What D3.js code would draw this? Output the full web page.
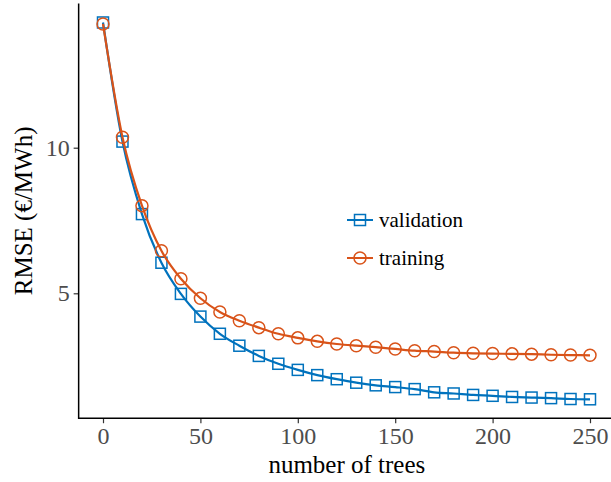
<!DOCTYPE html>
<html><head><meta charset="utf-8">
<script src="https://cdn.jsdelivr.net/npm/d3@7"></script>
<style>body{margin:0;background:#fff}svg{display:block}</style>
</head><body>
<script>
const trees = [0,10,20,30,40,50,60,70,80,90,100,110,120,130,140,150,160,170,180,190,200,210,220,230,240,250];
const validation = [14.30,10.21,7.72,6.05,4.98,4.20,3.61,3.20,2.85,2.58,2.37,2.19,2.05,1.93,1.84,1.78,1.71,1.60,1.56,1.51,1.48,1.44,1.42,1.40,1.37,1.36];
const training = [14.25,10.36,8.01,6.46,5.50,4.83,4.36,4.06,3.82,3.61,3.47,3.35,3.26,3.20,3.15,3.09,3.03,3.00,2.96,2.94,2.93,2.92,2.91,2.89,2.88,2.87];
const xTicks = [0,50,100,150,200,250];
const yTicks = [5,10];
const seriesNames = ["validation","training"];
const colors = ["#0072BD","#D95319"];

(function(){
const W=611,H=482;
const svg=d3.select("body").append("svg").attr("width",W).attr("height",H);
const x=d3.scaleLinear().domain([0,250]).range([103,590]);
const y=d3.scaleLinear().domain([5,10]).range([293.3,147.7]);
const pLeft=x(-12.5), pBottom=y(0.71), pTop=y(14.95);
const font="Liberation Serif, Times New Roman, serif";

const xAxis=svg.append("g").attr("transform",`translate(0,${pBottom})`)
  .call(d3.axisBottom(x).tickValues(xTicks).tickSize(5).tickPadding(4).tickFormat(d3.format("d")));
xAxis.select(".domain").remove();
const yAxis=svg.append("g").attr("transform",`translate(${pLeft},0)`)
  .call(d3.axisLeft(y).tickValues(yTicks).tickSize(5).tickPadding(4).tickFormat(d3.format("d")));
yAxis.select(".domain").remove();
[xAxis,yAxis].forEach(g=>{
  g.selectAll("line").attr("stroke","#333").attr("stroke-width",1.2);
  g.selectAll("text").attr("fill","#4d4d4d").style("font-family",font).style("font-size","24px");
});
svg.append("line").attr("x1",pLeft).attr("x2",pLeft).attr("y1",pTop).attr("y2",pBottom+0.75).attr("stroke","#000").attr("stroke-width",1.5);
svg.append("line").attr("x1",pLeft).attr("x2",W).attr("y1",pBottom).attr("y2",pBottom).attr("stroke","#000").attr("stroke-width",1.5);

svg.append("text").attr("x",(pLeft+W)/2+2).attr("y",473).attr("text-anchor","middle")
  .style("font-family",font).style("font-size","25px").attr("fill","#000").text("number of trees");
svg.append("text").attr("transform",`translate(32,${(pTop+pBottom)/2}) rotate(-90)`).attr("text-anchor","middle")
  .style("font-family",font).style("font-size","25px").attr("fill","#000").text("RMSE (€/MWh)");

const data=[validation,training];
const line=d3.line().x((d,i)=>x(trees[i])).y(d=>y(d)).curve(d3.curveMonotoneX);
data.forEach((vals,k)=>{
  const g=svg.append("g");
  g.append("path").attr("d",line(vals)).attr("fill","none").attr("stroke",colors[k]).attr("stroke-width",2.2);
  if(k===0){
    g.selectAll("rect").data(vals).join("rect")
      .attr("x",(d,i)=>x(trees[i])-5.5).attr("y",d=>y(d)-5.5).attr("width",11).attr("height",11)
      .attr("fill","none").attr("stroke",colors[k]).attr("stroke-width",1.5);
  } else {
    g.selectAll("circle").data(vals).join("circle")
      .attr("cx",(d,i)=>x(trees[i])).attr("cy",d=>y(d)).attr("r",6)
      .attr("fill","none").attr("stroke",colors[k]).attr("stroke-width",1.5);
  }
});

const lg=svg.append("g");
seriesNames.forEach((n,k)=>{
  const ly=220+k*38, lx=360;
  lg.append("line").attr("x1",lx-13).attr("x2",lx+13).attr("y1",ly).attr("y2",ly).attr("stroke",colors[k]).attr("stroke-width",2);
  if(k===0) lg.append("rect").attr("x",lx-5.5).attr("y",ly-5.5).attr("width",11).attr("height",11).attr("fill","none").attr("stroke",colors[k]).attr("stroke-width",1.5);
  else lg.append("circle").attr("cx",lx).attr("cy",ly).attr("r",6).attr("fill","none").attr("stroke",colors[k]).attr("stroke-width",1.5);
  lg.append("text").attr("x",379).attr("y",ly+7).style("font-family",font).style("font-size","21px").attr("fill","#000").text(n);
});
})();
</script>
</body></html>
